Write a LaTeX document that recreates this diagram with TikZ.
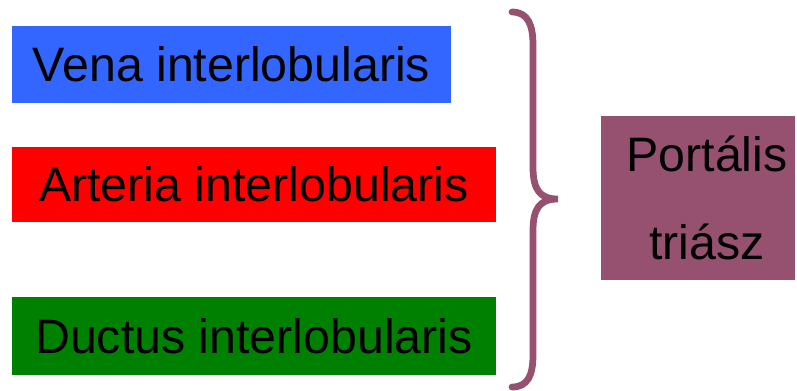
\documentclass[tikz,border=0pt]{standalone}
\usepackage{fontspec}
\setmainfont{Liberation Sans}
\usepackage{tikz}
\definecolor{venablue}{RGB}{51,102,255}
\definecolor{triadpurple}{RGB}{150,80,112}
\tikzstyle{box}=[rectangle, inner sep=0pt, font=\fontsize{27.5}{32}\selectfont]
\tikzstyle{boxblue}=[box, fill=venablue, minimum width=8.78cm, minimum height=1.54cm]
\tikzstyle{boxred}=[box, fill=red, minimum width=9.68cm, minimum height=1.5cm]
\tikzstyle{boxgreen}=[box, fill=green!50!black, minimum width=9.68cm, minimum height=1.56cm]
\tikzstyle{boxpurple}=[box, fill=triadpurple, minimum width=3.88cm, minimum height=3.28cm, align=center, font=\fontsize{27.5}{50}\selectfont]
\tikzstyle{curly}=[draw=triadpurple, line width=0.135cm, line cap=round]

\begin{document}
\begin{tikzpicture}[x=0.02cm, y=-0.02cm]
		   \useasboundingbox (0,0) rectangle (797,390);
		   \begin{scope}
			   \node (0) at (231.5, 64)[boxblue] {Vena interlobularis};
			   \node (1) at (254, 184.5)[boxred] {Arteria interlobularis};
			   \node (2) at (254, 336)[boxgreen] {Ductus interlobularis};
			   \node (3) at (698, 198)[boxpurple] {\hspace*{0.36cm}Portális\\\hspace*{0.36cm}triász};
		   \end{scope}
		   \begin{scope}
			   \draw [curly] (512, 12) .. controls (528, 12) and (533, 25) .. (533, 45)
				   -- (533, 167) .. controls (533, 190) and (540, 199) .. (558, 199)
				   .. controls (540, 199) and (533, 208) .. (533, 231)
				   -- (533, 355) .. controls (533, 375) and (528, 387) .. (512, 387);
		   \end{scope}
	   \end{tikzpicture}
\end{document}
